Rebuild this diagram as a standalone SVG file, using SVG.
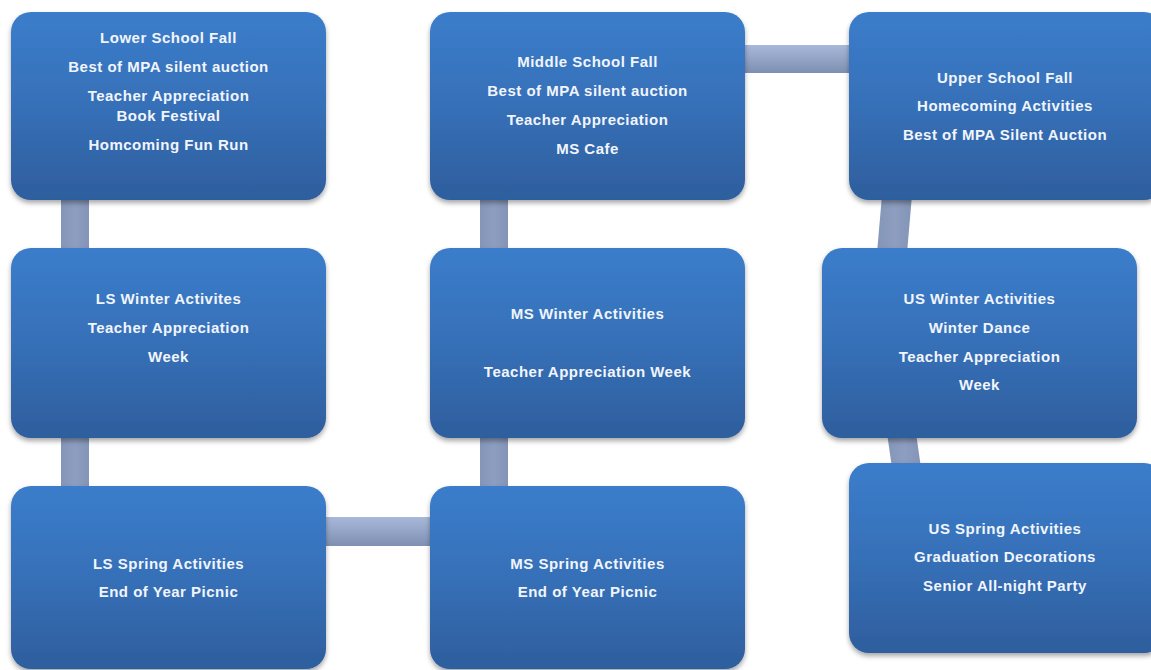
<svg xmlns="http://www.w3.org/2000/svg" width="1151" height="670" viewBox="0 0 1151 670">
<defs>
<linearGradient id="box" x1="0" y1="0" x2="0" y2="1">
<stop offset="0" stop-color="#3b7dcb"/>
<stop offset="0.5" stop-color="#3670b8"/>
<stop offset="1" stop-color="#2e5e9d"/>
</linearGradient>
<linearGradient id="hcon" x1="0" y1="0" x2="0" y2="1">
<stop offset="0" stop-color="#a8b8da"/>
<stop offset="1" stop-color="#7e90b1"/>
</linearGradient>
<linearGradient id="vcon" x1="0" y1="0" x2="1" y2="0">
<stop offset="0" stop-color="#8496b8"/>
<stop offset="0.5" stop-color="#8d9ec0"/>
<stop offset="1" stop-color="#8394b6"/>
</linearGradient>
<filter id="sh" x="-10%" y="-10%" width="120%" height="130%">
<feDropShadow dx="0" dy="3" stdDeviation="2.5" flood-color="#000" flood-opacity="0.35"/>
</filter>
</defs>
<style>
.b{fill:url(#box);filter:url(#sh)}
.t{font-family:"Liberation Sans",Arial,sans-serif;font-weight:bold;font-size:15px;fill:#f1f5fb;text-anchor:middle;letter-spacing:0.5px}
.h{fill:url(#hcon)}
.v{fill:url(#vcon)}
</style>
<rect width="1151" height="670" fill="#ffffff"/>
<g id="connectors">
<rect class="v" x="61" y="195" width="28" height="58"/>
<rect class="v" x="61" y="433" width="28" height="58"/>
<rect class="v" x="480" y="195" width="28" height="58"/>
<rect class="v" x="480" y="433" width="28" height="58"/>
<rect class="h" x="320" y="517" width="116" height="29"/>
<rect class="h" x="740" y="45" width="115" height="28"/>
<polygon class="v" points="882,195 912,195 907,253 877,253"/>
<polygon class="v" points="887,433 916,433 921,468 892,468"/>
</g>
<g id="ls-fall">
<rect class="b" x="11" y="12" width="315" height="188" rx="20"/>
<text class="t" x="168.5" y="43">Lower School Fall</text>
<text class="t" x="168.5" y="72">Best of MPA silent auction</text>
<text class="t" x="168.5" y="101">Teacher Appreciation</text>
<text class="t" x="168.5" y="121">Book Festival</text>
<text class="t" x="168.5" y="150">Homcoming Fun Run</text>
</g>
<g id="ms-fall">
<rect class="b" x="430" y="12" width="315" height="188" rx="20"/>
<text class="t" x="587.5" y="67">Middle School Fall</text>
<text class="t" x="587.5" y="96">Best of MPA silent auction</text>
<text class="t" x="587.5" y="125">Teacher Appreciation</text>
<text class="t" x="587.5" y="154">MS Cafe</text>
</g>
<g id="us-fall">
<rect class="b" x="849" y="12" width="315" height="188" rx="20"/>
<text class="t" x="1005" y="83">Upper School Fall</text>
<text class="t" x="1005" y="111">Homecoming Activities</text>
<text class="t" x="1005" y="140">Best of MPA Silent Auction</text>
</g>
<g id="ls-winter">
<rect class="b" x="11" y="248" width="315" height="190" rx="20"/>
<text class="t" x="168.5" y="304">LS Winter Activites</text>
<text class="t" x="168.5" y="333">Teacher Appreciation</text>
<text class="t" x="168.5" y="362">Week</text>
</g>
<g id="ms-winter">
<rect class="b" x="430" y="248" width="315" height="190" rx="20"/>
<text class="t" x="587.5" y="319">MS Winter Activities</text>
<text class="t" x="587.5" y="377">Teacher Appreciation Week</text>
</g>
<g id="us-winter">
<rect class="b" x="822" y="248" width="315" height="190" rx="20"/>
<text class="t" x="979.5" y="304">US Winter Activities</text>
<text class="t" x="979.5" y="333">Winter Dance</text>
<text class="t" x="979.5" y="362">Teacher Appreciation</text>
<text class="t" x="979.5" y="390">Week</text>
</g>
<g id="ls-spring">
<rect class="b" x="11" y="486" width="315" height="183" rx="20"/>
<text class="t" x="168.5" y="569">LS Spring Activities</text>
<text class="t" x="168.5" y="597">End of Year Picnic</text>
</g>
<g id="ms-spring">
<rect class="b" x="430" y="486" width="315" height="183" rx="20"/>
<text class="t" x="587.5" y="569">MS Spring Activities</text>
<text class="t" x="587.5" y="597">End of Year Picnic</text>
</g>
<g id="us-spring">
<rect class="b" x="849" y="463" width="315" height="190" rx="20"/>
<text class="t" x="1005" y="534">US Spring Activities</text>
<text class="t" x="1005" y="562">Graduation Decorations</text>
<text class="t" x="1005" y="591">Senior All-night Party</text>
</g>
</svg>
